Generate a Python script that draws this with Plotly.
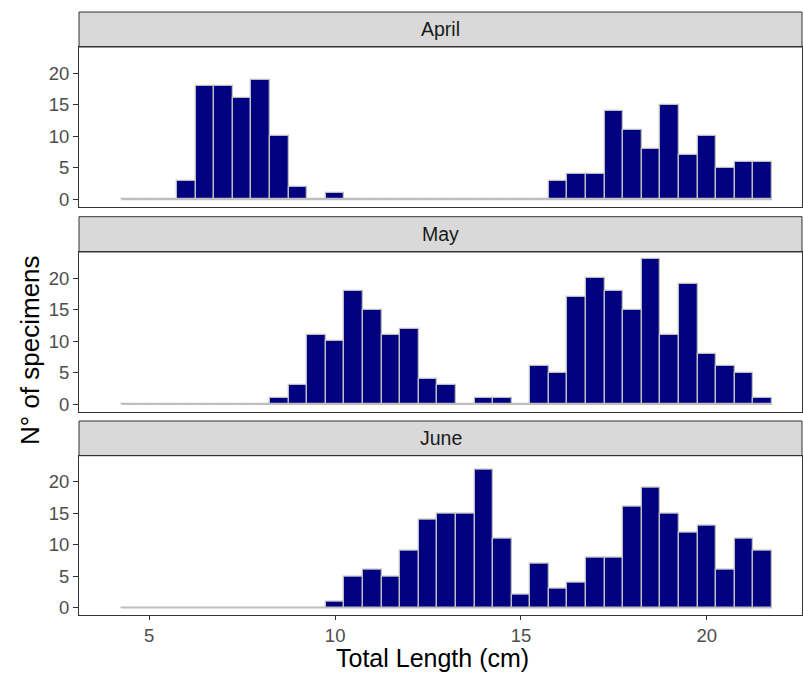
import plotly.graph_objects as go

# ---- data ----
months = ["April", "May", "June"]
bin_centers = [4.5 + 0.5 * i for i in range(35)]  # 0.5 cm bins, 4.25-21.75
bin_width = 0.5

april = [0, 0, 0, 3, 18, 18, 16, 19, 10, 2, 0, 1, 0, 0, 0, 0, 0, 0, 0, 0, 0, 0, 0,
         3, 4, 4, 14, 11, 8, 15, 7, 10, 5, 6, 6]
may = [0, 0, 0, 0, 0, 0, 0, 0, 1, 3, 11, 10, 18, 15, 11, 12, 4, 3, 0, 1, 1, 0, 6,
       5, 17, 20, 18, 15, 23, 11, 19, 8, 6, 5, 1]
june = [0, 0, 0, 0, 0, 0, 0, 0, 0, 0, 0, 1, 5, 6, 5, 9, 14, 15, 15, 22, 11, 2, 7,
        3, 4, 8, 8, 16, 19, 15, 12, 13, 6, 11, 9]
counts = [april, may, june]

x_ticks = [5, 10, 15, 20]
y_ticks = [0, 5, 10, 15, 20]

# ---- layout geometry (pixels) ----
W, H = 803, 673
ml, mr, mt, mb = 79, 1, 12, 58
ph = H - mt - mb
strip_px = [(12, 47), (216.7, 252), (421, 455.7)]
panel_px = [(47, 206.7), (252, 411.5), (455.7, 615)]

FONT = "Liberation Sans, Arial, sans-serif"


def fy(p):
    return (H - mb - p) / ph


fig = go.Figure()
ymax = max(max(c) for c in counts)
yr = [-0.05 * ymax, ymax * 1.05]
xr = [3.11, 22.56]

axis_font = dict(family=FONT, size=18.5, color="#4d4d4d")

for i, (m, c) in enumerate(zip(months, counts)):
    xa = "x" if i == 0 else f"x{i+1}"
    ya = "y" if i == 0 else f"y{i+1}"
    lo = bin_centers[0] - bin_width / 2
    hi = bin_centers[-1] + bin_width / 2
    fig.add_trace(go.Scatter(x=[lo, hi], y=[0, 0], mode="lines",
                             line=dict(color="#bebebe", width=1.5),
                             xaxis=xa, yaxis=ya, showlegend=False, hoverinfo="skip"))
    fig.add_trace(go.Bar(x=bin_centers, y=c, width=bin_width,
                         marker=dict(color="#000080", line=dict(color="#bebebe", width=1.3)),
                         xaxis=xa, yaxis=ya, showlegend=False))
    top, bot = panel_px[i]
    dom = [fy(bot), fy(top)]
    axkey = "xaxis" if i == 0 else f"xaxis{i+1}"
    aykey = "yaxis" if i == 0 else f"yaxis{i+1}"
    fig.update_layout({
        axkey: dict(domain=[0, 1], range=xr, anchor=ya, showgrid=False, zeroline=False,
                    showline=True, linecolor="#333333", linewidth=1, mirror=True,
                    tickvals=x_ticks, ticks="outside" if i == 2 else "",
                    ticklen=4, tickcolor="#333333", showticklabels=(i == 2),
                    tickfont=axis_font),
        aykey: dict(domain=dom, range=yr, anchor=xa, showgrid=False, zeroline=False,
                    showline=True, linecolor="#333333", linewidth=1, mirror=True,
                    tickvals=y_ticks, ticks="outside", ticklen=5, tickcolor="#333333",
                    tickfont=axis_font),
    })
    st, sb = strip_px[i]
    fig.add_shape(type="rect", xref="paper", yref="paper", x0=0, x1=1,
                  y0=fy(sb), y1=fy(st), fillcolor="#d9d9d9",
                  line=dict(color="#333333", width=1), layer="below")
    fig.add_annotation(x=0.5, y=(fy(sb) + fy(st)) / 2, xref="paper", yref="paper",
                       text=m, showarrow=False, yanchor="middle",
                       font=dict(family=FONT, size=19.5, color="#1a1a1a"))

fig.add_annotation(x=(30 - ml) / (W - ml - mr), y=fy(350), xref="paper", yref="paper",
                   text="N° of specimens", showarrow=False, textangle=-90,
                   xanchor="center", yanchor="middle",
                   font=dict(family=FONT, size=26, color="black"))
fig.add_annotation(x=(432 - ml) / (W - ml - mr), y=fy(658), xref="paper", yref="paper",
                   text="Total Length (cm)", showarrow=False, borderpad=0,
                   xanchor="center", yanchor="middle",
                   font=dict(family=FONT, size=25, color="black"))

fig.update_layout(width=W, height=H, margin=dict(l=ml, r=mr, t=mt, b=mb),
                  paper_bgcolor="white", plot_bgcolor="white", bargap=0,
                  showlegend=False)

fig.write_html("out.html")
